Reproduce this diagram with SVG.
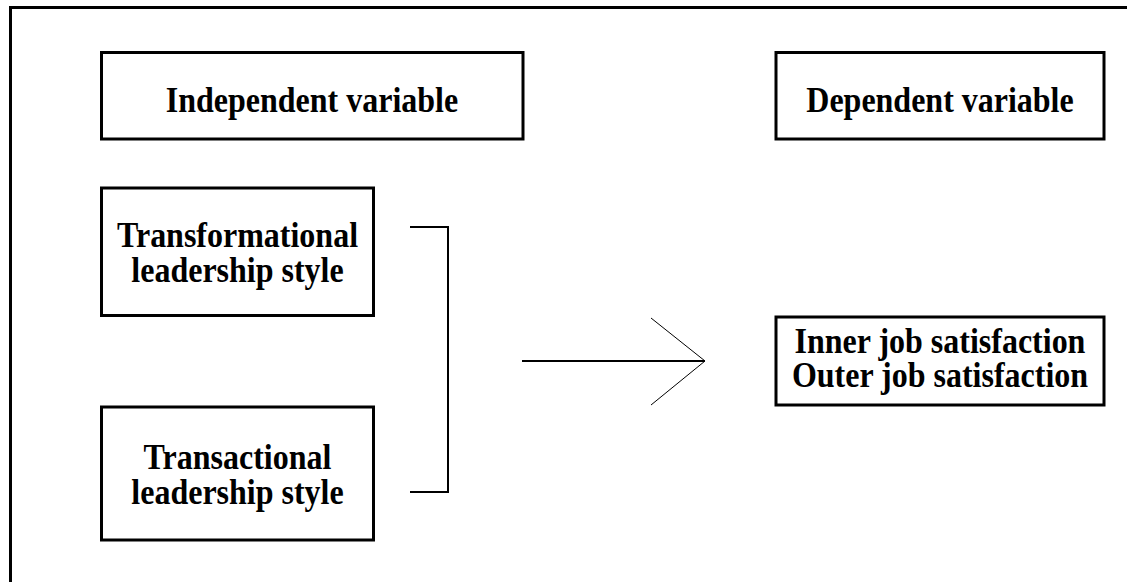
<svg xmlns="http://www.w3.org/2000/svg" width="1127" height="582" viewBox="0 0 1127 582">
<style>
.box{fill:#fff;stroke:#000;stroke-width:3}
.t{font-family:"Liberation Serif","Times New Roman",serif;font-weight:bold;font-size:32px;fill:#000;text-anchor:middle}
.c{fill:none;stroke:#000;stroke-width:2}
.h{fill:none;stroke:#000;stroke-width:1}
</style>
<rect width="1127" height="582" fill="#fff"/>
<g id="frame"><path d="M10.5 582 V7.5 H1127" fill="none" stroke="#000" stroke-width="3"/></g>
<g id="independent"><rect class="box" x="101.5" y="52.5" width="421.5" height="86.5"/><text class="t" transform="translate(312,112) scale(1,1.13)">Independent variable</text></g>
<g id="dependent"><rect class="box" x="776" y="52.5" width="328" height="86.5"/><text class="t" transform="translate(940,112) scale(1,1.13)">Dependent variable</text></g>
<g id="transformational"><rect class="box" x="101.5" y="188" width="272" height="127.5"/><text class="t" transform="translate(237.5,247) scale(1,1.13)"><tspan x="0" y="0">Transformational</tspan><tspan x="0" y="31">leadership style</tspan></text></g>
<g id="transactional"><rect class="box" x="101.5" y="407" width="272" height="133"/><text class="t" transform="translate(237.5,469) scale(1,1.13)"><tspan x="0" y="0">Transactional</tspan><tspan x="0" y="31">leadership style</tspan></text></g>
<g id="satisfaction"><rect class="box" x="776" y="317" width="328" height="88"/><text class="t" transform="translate(940,353) scale(1,1.13)"><tspan x="0" y="0">Inner job satisfaction</tspan><tspan x="0" y="30">Outer job satisfaction</tspan></text></g>
<g id="connectors">
<path class="c" d="M410 227 H448 V492 H410"/>
<path class="c" d="M522 361 H705"/>
<path class="h" d="M651 318 L705 361 L651 405"/>
</g>
</svg>
